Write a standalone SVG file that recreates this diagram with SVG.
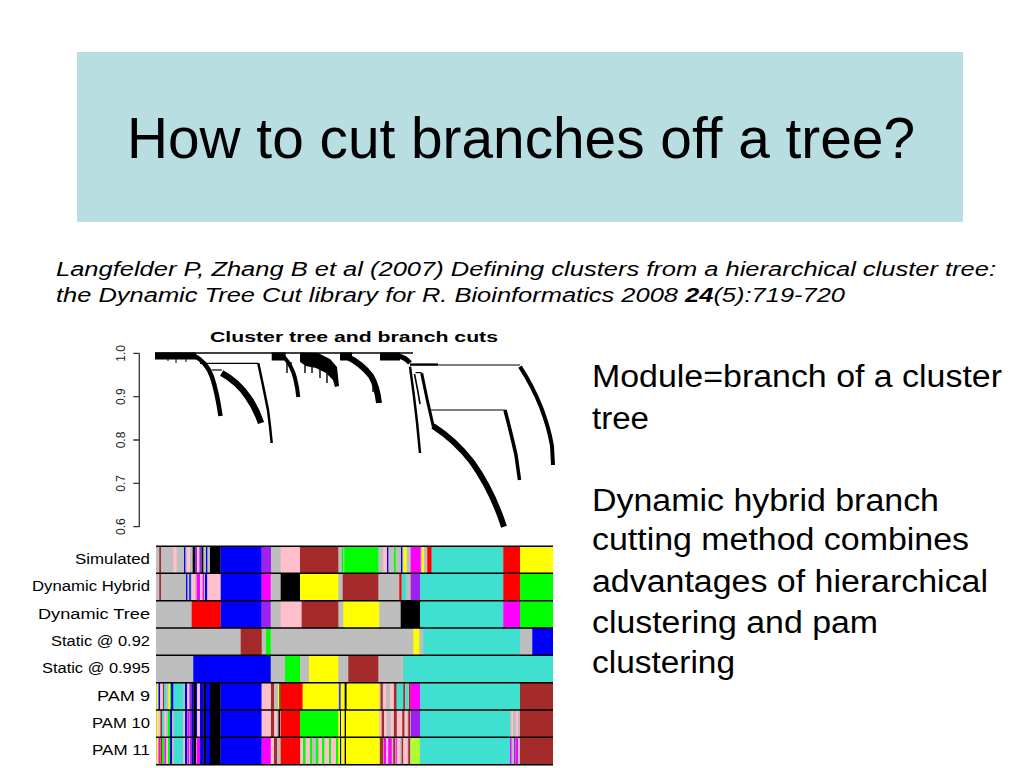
<svg xmlns="http://www.w3.org/2000/svg" width="1024" height="768" viewBox="0 0 1024 768">
<defs>
<style>
.sans{font-family:"Liberation Sans",Arial,sans-serif;fill:#000}
.br{fill:none;stroke:#000;stroke-linecap:butt;stroke-linejoin:round}
.thin{fill:none;stroke:#000;stroke-width:1.2}
.lab{font-family:"Liberation Sans",Arial,sans-serif;font-size:14px;fill:#000;text-anchor:end}
.tick{font-family:"Liberation Sans",Arial,sans-serif;font-size:12px;fill:#222;text-anchor:middle}
.sep{stroke:#000;stroke-width:1.4}
.g{fill:#BEBEBE}.b{fill:#0000FF}.n{fill:#A52A2A}.gr{fill:#00FF00}.t{fill:#40E0D0}.y{fill:#FFFF00}.r{fill:#FF0000}.m{fill:#FF00FF}.p{fill:#A020F0}.k{fill:#000}.pk{fill:#FFC0CB}.gy{fill:#ADFF2F}
</style>
</defs>
<rect width="1024" height="768" fill="#fff"/>
<g id="header">
<rect x="77" y="52" width="886" height="170" fill="#B9DEE2"/>
<text class="sans" x="127" y="158" font-size="57" textLength="788" lengthAdjust="spacingAndGlyphs">How to cut branches off a tree?</text>
</g>
<g id="citation" class="sans" font-size="20.5" font-style="italic">
<text x="56" y="276" textLength="940" lengthAdjust="spacingAndGlyphs">Langfelder P, Zhang B et al (2007) Defining clusters from a hierarchical cluster tree:</text>
<text x="56" y="302" textLength="789" lengthAdjust="spacingAndGlyphs">the Dynamic Tree Cut library for R. Bioinformatics 2008 <tspan font-weight="bold">24</tspan>(5):719-720</text>
</g>
<g id="bodytext" class="sans" font-size="31">
<text x="592" y="387" textLength="410" lengthAdjust="spacingAndGlyphs">Module=branch of a cluster</text>
<text x="592" y="429" textLength="57" lengthAdjust="spacingAndGlyphs">tree</text>
<text x="592" y="511" textLength="347" lengthAdjust="spacingAndGlyphs">Dynamic hybrid branch</text>
<text x="592" y="550" textLength="377" lengthAdjust="spacingAndGlyphs">cutting method combines</text>
<text x="592" y="592" textLength="396" lengthAdjust="spacingAndGlyphs">advantages of hierarchical</text>
<text x="592" y="633" textLength="286" lengthAdjust="spacingAndGlyphs">clustering and pam</text>
<text x="592" y="673" textLength="143" lengthAdjust="spacingAndGlyphs">clustering</text>
</g>
<g id="dendrogram">
<text class="sans" x="210" y="342" font-size="15" font-weight="bold" textLength="288" lengthAdjust="spacingAndGlyphs">Cluster tree and branch cuts</text>
<g id="axis">
<line x1="139.3" y1="353.3" x2="139.3" y2="527" stroke="#333" stroke-width="1.3"/>
<path d="M133.3 353.3H139.3M133.3 396.7H139.3M133.3 440H139.3M133.3 483.3H139.3M133.3 526.7H139.3" stroke="#333" stroke-width="1.3"/>
<text class="tick" transform="translate(125,353.3) rotate(-90)">1.0</text>
<text class="tick" transform="translate(125,396.7) rotate(-90)">0.9</text>
<text class="tick" transform="translate(125,440) rotate(-90)">0.8</text>
<text class="tick" transform="translate(125,483.3) rotate(-90)">0.7</text>
<text class="tick" transform="translate(125,526.7) rotate(-90)">0.6</text>
</g>
<g id="tree">
<line x1="155" y1="353" x2="413" y2="353" stroke="#000" stroke-width="1.3"/>
<rect x="155" y="352.5" width="41" height="7" fill="#000"/>
<path d="M176 359v4M186 359v3M168 359v2" stroke="#000" stroke-width="1"/>
<path class="br" stroke-width="4.5" d="M193 355 Q207 362 212 377 Q217 392 220.5 416"/>
<path class="thin" d="M200 363.3H258.3"/>
<path class="br" stroke-width="2.5" d="M258.3 363.3 Q263 385 268 410 Q270 425 271.7 443"/>
<path class="thin" d="M211.7 370H221.7"/>
<path class="br" stroke-width="6.5" d="M221.7 373 Q238 382 248 397 Q256 408 261 423"/>
<rect x="271.7" y="352.5" width="14" height="8" fill="#000"/>
<path class="br" stroke-width="4" d="M284 357 Q292 366 295 378 Q297.5 388 298.3 397"/>
<path d="M287 359v14M291 362v8" stroke="#000" stroke-width="1.4"/>
<polygon points="300,352.5 318,353 330,359 337,367 339,386 335,387 333,380 326,373 316,368 306,366 300,362" fill="#000"/>
<path d="M305 365v8M312 367v6M320 369v9M327 373v10" stroke="#000" stroke-width="1.4"/>
<rect x="340" y="352.5" width="12" height="8" fill="#000"/>
<path class="br" stroke-width="6" d="M346 356 Q362 364 371 376 Q377 386 379 403"/>
<path d="M373 380v12M376 384v8" stroke="#000" stroke-width="1.4"/>
<rect x="380" y="352.5" width="20" height="8" fill="#000"/>
<path class="br" stroke-width="5" d="M398 356 Q405 357 410 363"/>
<path class="thin" d="M410 365H520"/>
<path d="M410 364.5H438" stroke="#000" stroke-width="2.2"/>
<path class="br" stroke-width="4" d="M520 366.7 Q532 385 541 407 Q549 428 552 446 L553 465"/>
<path class="br" stroke-width="2.5" d="M410 366.7 Q414 395 417 422 L420 453"/>
<path class="br" stroke-width="1.6" d="M414.5 374 L418 392 L420 404"/>
<path class="thin" d="M415.5 372.6H421.7"/>
<path class="br" stroke-width="3" d="M421.7 373.3 Q427 400 433.3 426.7"/>
<path class="br" stroke-width="6" d="M433 426 Q455 440 472 462 Q492 490 504 526.7"/>
<path class="thin" d="M430 410H505"/>
<path class="br" stroke-width="3.5" d="M505 410 Q512 437 516 455 L519.5 480"/>
</g>
</g>
<g id="colorbars">
<g id="labels">
<text class="lab" x="150" y="564" textLength="75" lengthAdjust="spacingAndGlyphs">Simulated</text>
<text class="lab" x="150" y="591.3" textLength="118" lengthAdjust="spacingAndGlyphs">Dynamic Hybrid</text>
<text class="lab" x="150" y="618.7" textLength="112" lengthAdjust="spacingAndGlyphs">Dynamic Tree</text>
<text class="lab" x="150" y="646" textLength="99" lengthAdjust="spacingAndGlyphs">Static @ 0.92</text>
<text class="lab" x="150" y="673.3" textLength="108" lengthAdjust="spacingAndGlyphs">Static @ 0.995</text>
<text class="lab" x="150" y="700.7" textLength="53" lengthAdjust="spacingAndGlyphs">PAM 9</text>
<text class="lab" x="150" y="728" textLength="58" lengthAdjust="spacingAndGlyphs">PAM 10</text>
<text class="lab" x="150" y="755.3" textLength="58" lengthAdjust="spacingAndGlyphs">PAM 11</text>
</g>
<g id="row-simulated" transform="translate(0,546)">
<rect class="g" x="156" width="397" height="27.4"/>
<rect class="n" x="159.3" width="1.7" height="27.4"/>
<rect class="pk" x="173.3" width="3.4" height="27.4"/>
<rect class="b" x="184" width="1.3" height="27.4"/>
<rect class="pk" x="187" width="3" height="27.4"/>
<rect class="k" x="192.7" width="2.3" height="27.4"/>
<rect class="p" x="195" width="2" height="27.4"/>
<rect class="pk" x="197" width="2.5" height="27.4"/>
<rect class="p" x="199.5" width="2.2" height="27.4"/>
<rect class="k" x="201.7" width="1.6" height="27.4"/>
<rect class="b" x="206" width="1.3" height="27.4"/>
<rect class="k" x="210" width="10.7" height="27.4"/>
<rect class="b" x="220.7" width="41" height="27.4"/>
<rect class="p" x="261.7" width="9.3" height="27.4"/>
<rect class="pk" x="280.7" width="19.3" height="27.4"/>
<rect class="n" x="300" width="38.3" height="27.4"/>
<rect class="gr" x="341.7" width="36.6" height="27.4"/>
<rect class="g" x="343.3" width="1" height="27.4"/>
<rect class="pk" x="383.3" width="3.4" height="27.4"/>
<rect class="b" x="387" width="1.3" height="27.4"/>
<rect class="gr" x="394" width="1.7" height="27.4"/>
<rect class="b" x="401" width="1.3" height="27.4"/>
<rect class="y" x="403.3" width="3.4" height="27.4"/>
<rect class="m" x="410.7" width="10" height="27.4"/>
<rect class="y" x="421.7" width="2.3" height="27.4"/>
<rect class="r" x="427.3" width="4.4" height="27.4"/>
<rect class="t" x="431.7" width="71.6" height="27.4"/>
<rect class="r" x="503.3" width="16.7" height="27.4"/>
<rect class="y" x="520" width="33" height="27.4"/>
</g>
<g id="row-dynamic-hybrid" transform="translate(0,573.3)">
<rect class="g" x="156" width="397" height="27.4"/>
<rect class="n" x="159.3" width="1.7" height="27.4"/>
<rect class="b" x="186" width="1.3" height="27.4"/>
<rect class="b" x="189.3" width="1.4" height="27.4"/>
<rect class="pk" x="192" width="3" height="27.4"/>
<rect class="m" x="196.7" width="3.3" height="27.4"/>
<rect class="pk" x="200" width="1.7" height="27.4"/>
<rect class="m" x="202.7" width="1.3" height="27.4"/>
<rect class="b" x="205" width="2.3" height="27.4"/>
<rect class="pk" x="207.3" width="13.4" height="27.4"/>
<rect class="b" x="220.7" width="41" height="27.4"/>
<rect class="m" x="261.7" width="9" height="27.4"/>
<rect class="k" x="280.7" width="19.3" height="27.4"/>
<rect class="y" x="300" width="38.3" height="27.4"/>
<rect class="n" x="342.7" width="35.6" height="27.4"/>
<rect class="r" x="399.3" width="2.4" height="27.4"/>
<rect class="t" x="401.7" width="4.3" height="27.4"/>
<rect class="p" x="410.7" width="9.3" height="27.4"/>
<rect class="t" x="420" width="83.3" height="27.4"/>
<rect class="r" x="503.3" width="16.7" height="27.4"/>
<rect class="gr" x="520" width="33" height="27.4"/>
</g>
<g id="row-dynamic-tree" transform="translate(0,600.7)">
<rect class="g" x="156" width="397" height="27.4"/>
<rect class="r" x="191.7" width="29" height="27.4"/>
<rect class="b" x="220.7" width="41" height="27.4"/>
<rect class="p" x="261.7" width="9" height="27.4"/>
<rect class="pk" x="280.7" width="21" height="27.4"/>
<rect class="n" x="301.7" width="36.6" height="27.4"/>
<rect class="y" x="343.3" width="36" height="27.4"/>
<rect class="k" x="400.7" width="19.3" height="27.4"/>
<rect class="t" x="420" width="83.3" height="27.4"/>
<rect class="m" x="503.3" width="16.7" height="27.4"/>
<rect class="gr" x="520" width="33" height="27.4"/>
</g>
<g id="row-static-092" transform="translate(0,628)">
<rect class="g" x="156" width="397" height="27.4"/>
<rect class="n" x="240.7" width="21" height="27.4"/>
<rect class="gr" x="266" width="4.7" height="27.4"/>
<rect class="y" x="413.3" width="6" height="27.4"/>
<rect class="t" x="423.3" width="96.7" height="27.4"/>
<rect class="b" x="532.3" width="20.7" height="27.4"/>
</g>
<g id="row-static-0995" transform="translate(0,655.3)">
<rect class="g" x="156" width="397" height="27.4"/>
<rect class="b" x="193.3" width="77.4" height="27.4"/>
<rect class="gr" x="285" width="15" height="27.4"/>
<rect class="y" x="309" width="29.3" height="27.4"/>
<rect class="n" x="348.3" width="30" height="27.4"/>
<rect class="t" x="403.3" width="149.7" height="27.4"/>
</g>
<g id="row-pam9" transform="translate(0,682.7)">
<rect class="g" x="156" width="397" height="27.4"/>
<rect class="y" x="157" width="1.5" height="27.4"/>
<rect class="b" x="158.5" width="1.5" height="27.4"/>
<rect class="pk" x="160.5" width="2" height="27.4"/>
<rect class="n" x="163" width="1" height="27.4"/>
<rect class="t" x="164" width="2" height="27.4"/>
<rect class="y" x="168.5" width="1.5" height="27.4"/>
<rect class="gr" x="170" width="1" height="27.4"/>
<rect class="b" x="171" width="2.3" height="27.4"/>
<rect class="t" x="174" width="9.3" height="27.4"/>
<rect class="b" x="185" width="2" height="27.4"/>
<rect class="pk" x="187.5" width="2" height="27.4"/>
<rect class="p" x="189.5" width="2" height="27.4"/>
<rect class="b" x="191.5" width="1.8" height="27.4"/>
<rect class="k" x="193.3" width="2.7" height="27.4"/>
<rect class="b" x="196" width="1" height="27.4"/>
<rect class="pk" x="197" width="3" height="27.4"/>
<rect class="b" x="200" width="3.3" height="27.4"/>
<rect class="k" x="203.3" width="2.7" height="27.4"/>
<rect class="b" x="206" width="4" height="27.4"/>
<rect class="k" x="210" width="10.7" height="27.4"/>
<rect class="b" x="220.7" width="41" height="27.4"/>
<rect class="pk" x="261.7" width="9" height="27.4"/>
<rect class="n" x="271" width="3" height="27.4"/>
<rect class="y" x="278" width="1.5" height="27.4"/>
<rect class="k" x="279.5" width="1" height="27.4"/>
<rect class="r" x="280.7" width="22" height="27.4"/>
<rect class="y" x="302.7" width="35.6" height="27.4"/>
<rect class="b" x="339.3" width="1.4" height="27.4"/>
<rect class="y" x="340.7" width="4" height="27.4"/>
<rect class="k" x="344.7" width="2" height="27.4"/>
<rect class="y" x="346.7" width="32.6" height="27.4"/>
<rect class="n" x="380.7" width="2" height="27.4"/>
<rect class="pk" x="383.3" width="2.7" height="27.4"/>
<rect class="pk" x="390" width="3.3" height="27.4"/>
<rect class="n" x="394" width="2.7" height="27.4"/>
<rect class="t" x="396.7" width="6.6" height="27.4"/>
<rect class="n" x="403.3" width="1.7" height="27.4"/>
<rect class="t" x="405.7" width="2.6" height="27.4"/>
<rect class="n" x="409" width="1.7" height="27.4"/>
<rect class="m" x="410.7" width="9.3" height="27.4"/>
<rect class="t" x="420" width="100" height="27.4"/>
<rect class="n" x="520" width="33" height="27.4"/>
</g>
<g id="row-pam10" transform="translate(0,710)">
<rect class="g" x="156" width="397" height="27.4"/>
<rect class="y" x="157" width="1.5" height="27.4"/>
<rect class="pk" x="158.5" width="1.5" height="27.4"/>
<rect class="n" x="160.5" width="1.5" height="27.4"/>
<rect class="t" x="162" width="2" height="27.4"/>
<rect class="pk" x="164.5" width="1.5" height="27.4"/>
<rect class="gr" x="168" width="2" height="27.4"/>
<rect class="b" x="170" width="2" height="27.4"/>
<rect class="t" x="174" width="9.3" height="27.4"/>
<rect class="pk" x="183.3" width="1.7" height="27.4"/>
<rect class="b" x="185" width="2" height="27.4"/>
<rect class="m" x="187.5" width="1.5" height="27.4"/>
<rect class="p" x="189.5" width="2" height="27.4"/>
<rect class="b" x="191.5" width="1.8" height="27.4"/>
<rect class="k" x="193.3" width="2.7" height="27.4"/>
<rect class="b" x="196" width="1" height="27.4"/>
<rect class="pk" x="197" width="3" height="27.4"/>
<rect class="b" x="200" width="3.3" height="27.4"/>
<rect class="k" x="203.3" width="2.7" height="27.4"/>
<rect class="b" x="206" width="4" height="27.4"/>
<rect class="k" x="210" width="10.7" height="27.4"/>
<rect class="b" x="220.7" width="41" height="27.4"/>
<rect class="pk" x="261.7" width="9" height="27.4"/>
<rect class="n" x="271" width="3" height="27.4"/>
<rect class="pk" x="274" width="3" height="27.4"/>
<rect class="k" x="278.5" width="1.5" height="27.4"/>
<rect class="r" x="280.7" width="19.3" height="27.4"/>
<rect class="gr" x="300" width="38.3" height="27.4"/>
<rect class="y" x="338.3" width="1.7" height="27.4"/>
<rect class="b" x="340" width="1" height="27.4"/>
<rect class="y" x="341" width="3.7" height="27.4"/>
<rect class="k" x="344.7" width="1.3" height="27.4"/>
<rect class="y" x="346" width="33.3" height="27.4"/>
<rect class="pk" x="380" width="1.7" height="27.4"/>
<rect class="n" x="381.7" width="2.3" height="27.4"/>
<rect class="pk" x="384" width="2.7" height="27.4"/>
<rect class="pk" x="390.7" width="2.6" height="27.4"/>
<rect class="n" x="394" width="2.7" height="27.4"/>
<rect class="pk" x="397.3" width="4.4" height="27.4"/>
<rect class="n" x="402.3" width="2" height="27.4"/>
<rect class="pk" x="405" width="2.3" height="27.4"/>
<rect class="n" x="408.3" width="1.7" height="27.4"/>
<rect class="p" x="410.7" width="9.3" height="27.4"/>
<rect class="t" x="420" width="90" height="27.4"/>
<rect class="pk" x="511.5" width="1.5" height="27.4"/>
<rect class="pk" x="516" width="2" height="27.4"/>
<rect class="n" x="520" width="33" height="27.4"/>
</g>
<g id="row-pam11" transform="translate(0,737.3)">
<rect class="g" x="156" width="397" height="27.4"/>
<rect class="y" x="157" width="1.5" height="27.4"/>
<rect class="m" x="158.5" width="1.5" height="27.4"/>
<rect class="n" x="160.5" width="1.5" height="27.4"/>
<rect class="gr" x="162" width="2" height="27.4"/>
<rect class="m" x="164.5" width="1.5" height="27.4"/>
<rect class="pk" x="166" width="2" height="27.4"/>
<rect class="gr" x="168" width="2" height="27.4"/>
<rect class="b" x="170" width="2" height="27.4"/>
<rect class="t" x="174" width="9.3" height="27.4"/>
<rect class="pk" x="183.3" width="1.7" height="27.4"/>
<rect class="b" x="185" width="2" height="27.4"/>
<rect class="m" x="187.5" width="1.5" height="27.4"/>
<rect class="p" x="190" width="2" height="27.4"/>
<rect class="b" x="192" width="1.3" height="27.4"/>
<rect class="k" x="193.3" width="2.7" height="27.4"/>
<rect class="m" x="196.7" width="3.3" height="27.4"/>
<rect class="b" x="200" width="3.3" height="27.4"/>
<rect class="k" x="203.3" width="2.7" height="27.4"/>
<rect class="b" x="206" width="4" height="27.4"/>
<rect class="k" x="210" width="10.7" height="27.4"/>
<rect class="b" x="220.7" width="41" height="27.4"/>
<rect class="m" x="261.7" width="9" height="27.4"/>
<rect class="pk" x="271" width="3" height="27.4"/>
<rect class="n" x="274" width="3" height="27.4"/>
<rect class="r" x="280.7" width="19.3" height="27.4"/>
<rect class="pk" x="300" width="3" height="27.4"/>
<rect class="gr" x="303" width="2.7" height="27.4"/>
<rect class="pk" x="305.7" width="4.3" height="27.4"/>
<rect class="gr" x="310" width="2" height="27.4"/>
<rect class="gr" x="316" width="2.5" height="27.4"/>
<rect class="pk" x="318.5" width="3.5" height="27.4"/>
<rect class="gr" x="322" width="2.5" height="27.4"/>
<rect class="pk" x="324.5" width="4.5" height="27.4"/>
<rect class="gr" x="329" width="2" height="27.4"/>
<rect class="pk" x="331" width="5" height="27.4"/>
<rect class="gr" x="336" width="2.3" height="27.4"/>
<rect class="y" x="338.3" width="1.7" height="27.4"/>
<rect class="b" x="340" width="1.3" height="27.4"/>
<rect class="y" x="341.3" width="3.4" height="27.4"/>
<rect class="k" x="344.7" width="1.3" height="27.4"/>
<rect class="y" x="346" width="33.3" height="27.4"/>
<rect class="n" x="380" width="3.3" height="27.4"/>
<rect class="m" x="384" width="2" height="27.4"/>
<rect class="pk" x="386" width="2" height="27.4"/>
<rect class="m" x="388.3" width="3.4" height="27.4"/>
<rect class="n" x="393.3" width="1.7" height="27.4"/>
<rect class="m" x="395.7" width="1" height="27.4"/>
<rect class="pk" x="397.3" width="2.7" height="27.4"/>
<rect class="n" x="401.7" width="1.6" height="27.4"/>
<rect class="pk" x="403.3" width="4" height="27.4"/>
<rect class="n" x="408.3" width="1.7" height="27.4"/>
<rect class="gy" x="410.7" width="9.3" height="27.4"/>
<rect class="t" x="420" width="90" height="27.4"/>
<rect class="m" x="510" width="1.5" height="27.4"/>
<rect class="p" x="514" width="1.5" height="27.4"/>
<rect class="m" x="516" width="2" height="27.4"/>
<rect class="n" x="520" width="33" height="27.4"/>
</g>
<g id="separators">
<path class="sep" d="M156 546.3H553M156 573.3H553M156 600.7H553M156 628H553M156 655.3H553M156 682.7H553M156 710H553M156 737.3H553M156 764.7H553"/>
</g>
</g>
</svg>
